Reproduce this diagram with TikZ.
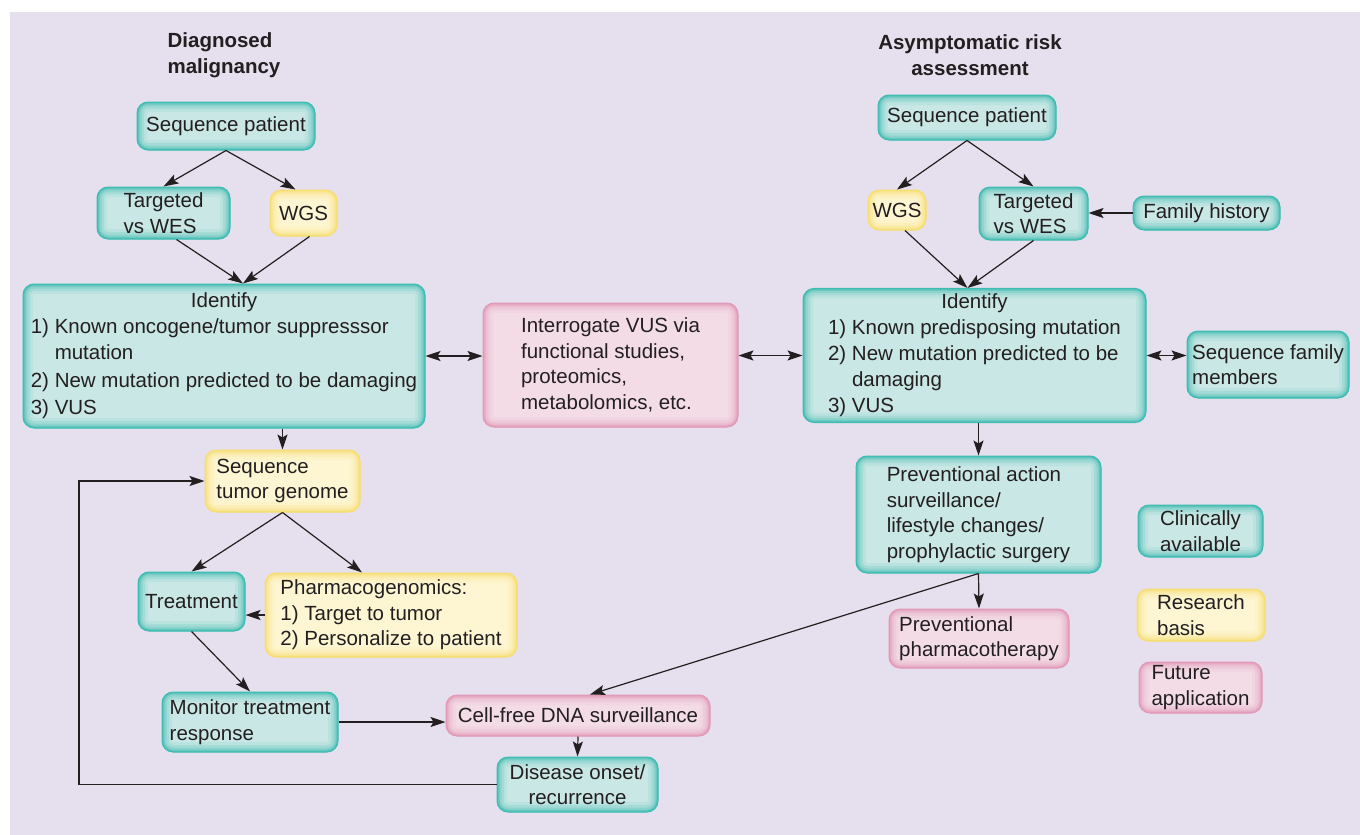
\documentclass[tikz,border=0pt]{standalone}
\usepackage{fontspec}
\setmainfont{Liberation Sans}
\usetikzlibrary{arrows.meta}
\definecolor{bg}{HTML}{E6E0EE}
\definecolor{txt}{HTML}{231F20}
\definecolor{tfill}{HTML}{C9E7E5}
\definecolor{tedge}{HTML}{3DBCB2}
\definecolor{yfill}{HTML}{FEF6D2}
\definecolor{yedge}{HTML}{F7DE70}
\definecolor{pfill}{HTML}{F3DCE6}
\definecolor{pedge}{HTML}{E298B7}
\newcommand\myfs{\fontsize{20.5}{25.5}\selectfont}
\begin{document}
\begin{tikzpicture}[x=1pt,y=-1pt,
  every node/.style={font=\myfs, text=txt},
  boxbase/.style={rounded corners=11pt, inner sep=2pt, align=left, line width=1pt},
  glow/.style={path picture={\foreach \w/\o in {20/0.10,14/0.16,9/0.24,5/0.4,2.5/0.6}{\draw[#1,line width=\w pt,opacity=\o,rounded corners=11pt] (path picture bounding box.south west) rectangle (path picture bounding box.north east);}}},
  tbox/.style={boxbase, fill=tfill, draw=tedge, glow=tedge},
  ybox/.style={boxbase, fill=yfill, draw=yedge, glow=yedge},
  pbox/.style={boxbase, fill=pfill, draw=pedge, glow=pedge},
  sz/.style 2 args={minimum width=#1pt, minimum height=#2pt},
  title/.style={font=\myfs\bfseries},
  arr/.style={draw=txt, line width=1.2pt, -{Stealth[length=15pt,width=10pt,inset=3pt]}},
  darr/.style={draw=txt, line width=1.2pt, {Stealth[length=15pt,width=10pt,inset=3pt]}-{Stealth[length=15pt,width=10pt,inset=3pt]}},
]
\useasboundingbox (0,0) rectangle (1360,835);
\fill[white] (0,0) rectangle (1360,835);
\fill[bg] (10,12) rectangle (1360,835);

% titles
\node[title, align=left] (t1) at (224,55) {Diagnosed\\malignancy};
\node[title, align=center] (t2) at (970,55) {Asymptomatic risk\\assessment};

% left column
\node[tbox, sz={178}{48}] (sp1) at (226,126) {Sequence patient};
\node[tbox, sz={133}{52}] (tw1) at (163.5,213) {Targeted\\vs WES};
\node[ybox, sz={67}{46}] (wgs1) at (303.5,213) {WGS};
\node[tbox, sz={402}{144}] (id1) at (224,356) {\renewcommand\arraystretch{1.02}\begin{tabular}{@{}l@{}}\multicolumn{1}{@{}c@{}}{Identify}\\ 1) Known oncogene/tumor suppresssor\\ \phantom{1) }mutation\\[2pt] 2) New mutation predicted to be damaging\\[1pt] 3) VUS\end{tabular}};
\node[pbox, sz={255}{124}] (vus) at (610.5,365) {Interrogate VUS via\\functional studies,\\proteomics,\\metabolomics, etc.};
\node[ybox, sz={155}{62}] (stg) at (282.5,481) {Sequence\\tumor genome};
\node[tbox, sz={107}{59}] (treat) at (191.5,601.5) {Treatment};
\node[ybox, sz={252}{84}] (pharm) at (391,615) {Pharmacogenomics:\\1) Target to tumor\\2) Personalize to patient};
\node[tbox, sz={176}{60}] (mon) at (250,722) {Monitor treatment\\response};
\node[pbox, sz={264}{41}] (cfd) at (578,715.5) {Cell-free DNA surveillance};
\node[tbox, sz={161}{55}, align=center] (dis) at (577.5,784.5) {Disease onset/\\recurrence};

% right column
\node[tbox, sz={178}{45}] (sp2) at (967,117.5) {Sequence patient};
\node[ybox, sz={58}{40}] (wgs2) at (897,210) {WGS};
\node[tbox, sz={109}{53}] (tw2) at (1033.5,213.5) {Targeted\\vs WES};
\node[tbox, sz={147}{34}] (fh) at (1206.5,213) {Family history};
\node[tbox, sz={343}{133}] (id2) at (974.5,355.5) {\renewcommand\arraystretch{1.02}\begin{tabular}{@{}l@{}}\multicolumn{1}{@{}c@{}}{Identify}\\ 1) Known predisposing mutation\\ 2) New mutation predicted to be\\ \phantom{2) }damaging\\ 3) VUS\end{tabular}};
\node[tbox, sz={162}{67}] (sfm) at (1268,364.5) {Sequence family\\members};
\node[tbox, sz={245}{117}] (pa) at (978.5,514.5) {Preventional action\\surveillance/\\lifestyle changes/\\prophylactic surgery};
\node[pbox, sz={180}{59}] (pp) at (979,638.5) {Preventional\\pharmacotherapy};

% legend
\node[tbox, sz={125}{52}] (leg1) at (1200.5,531) {Clinically\\available};
\node[ybox, sz={128}{52}] (leg2) at (1201,615) {Research\\basis};
\node[pbox, sz={123}{51}] (leg3) at (1200.5,687.5) {Future\\application};

% connectors left
\draw[arr] (sp1.south) -- (tw1.north);
\draw[arr] (sp1.south) -- ([xshift=-8pt]wgs1.north);
\draw[arr] ([xshift=13pt]tw1.south) -- ([xshift=19pt]id1.north);
\draw[arr] ([xshift=6pt]wgs1.south) -- ([xshift=19pt]id1.north);
\draw[darr] (id1.east) -- (id1.east -| vus.west);
\draw[darr] (vus.east |- id2.west) -- (id2.west);
\draw[darr] (id2.east) -- (id2.east -| sfm.west);
\draw[arr] (stg.north |- id1.south) -- (stg.north);
\draw[arr] (stg.south) -- (treat.north);
\draw[arr] (stg.south) -- ([xshift=-29pt]pharm.north);
\draw[arr] (pharm.west) -- (pharm.west -| treat.east);
\draw[arr] (treat.south) -- (mon.north);
\draw[arr] (mon.east) -- (mon.east -| cfd.west);
\draw[arr] (cfd.south) -- (dis.north);
\coordinate (lp) at (79,0);
\draw[arr] (dis.west) -- (dis.west -| lp) -- (lp |- stg.west) -- (stg.west);

% connectors right
\draw[arr] (sp2.south) -- (wgs2.north);
\draw[arr] (sp2.south) -- (tw2.north);
\draw[arr] ([xshift=8pt]wgs2.south) -- ([xshift=-7pt]id2.north);
\draw[arr] (tw2.south) -- ([xshift=-7pt]id2.north);
\draw[arr] (fh.west) -- (fh.west -| tw2.east);
\draw[arr] (pa.north |- id2.south) -- (pa.north);
\draw[arr] (pa.south) -- (pp.north);
\draw[arr] (pa.south) -- ([xshift=12pt]cfd.north);
\end{tikzpicture}
\end{document}
